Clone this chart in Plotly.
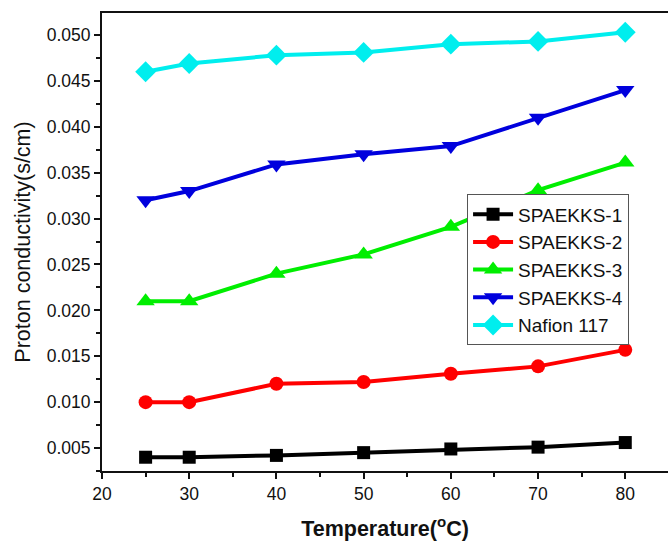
import plotly.graph_objects as go

temps = [25, 30, 40, 50, 60, 70, 80]
names = ["SPAEKKS-1", "SPAEKKS-2", "SPAEKKS-3", "SPAEKKS-4", "Nafion 117"]
s1 = [0.0040, 0.0040, 0.0042, 0.0045, 0.0049, 0.0051, 0.0056]
s2 = [0.0100, 0.0100, 0.0120, 0.0122, 0.0131, 0.0139, 0.0157]
s3 = [0.0210, 0.0210, 0.0240, 0.0261, 0.0291, 0.0331, 0.0361]
s4 = [0.0320, 0.0330, 0.0359, 0.0370, 0.0379, 0.0410, 0.0440]
naf = [0.0460, 0.0469, 0.0478, 0.0481, 0.0490, 0.0493, 0.0503]
series = [s1, s2, s3, s4, naf]
colors = ["#000000", "#ff0000", "#00ee00", "#0000dd", "#00eeee"]
symbols = ["square", "circle", "triangle-up", "triangle-down", "diamond"]
sizes = [13, 14, 16, 16, 16]

fig = go.Figure()
for n, ys, c, sym, sz in zip(names, series, colors, symbols, sizes):
    fig.add_trace(go.Scatter(x=temps, y=ys, name=n, mode="lines+markers",
                             line=dict(color=c, width=4),
                             marker=dict(symbol=sym, size=sz, color=c)))

axis_font = dict(family="Liberation Sans, Arial", size=17.5, color="#111")
fig.update_layout(
    width=668, height=542,
    margin=dict(l=102, r=0, t=13, b=71),
    paper_bgcolor="white", plot_bgcolor="white",
    font=dict(family="Liberation Sans, Arial", color="#111"),
    showlegend=True,
    legend=dict(x=0.645, y=0.604, xanchor="left", yanchor="top",
                bgcolor="white", bordercolor="#555", borderwidth=1,
                font=dict(family="Liberation Sans, Arial", size=19, color="#111"),
                tracegroupgap=0, itemwidth=40),
    xaxis=dict(range=[20, 84.9], tickvals=[20, 30, 40, 50, 60, 70, 80],
               ticks="outside", ticklen=6, tickwidth=2, tickcolor="#111",
               showline=True, linewidth=2, linecolor="#111", mirror=True,
               showgrid=False, zeroline=False, tickfont=axis_font,
               minor=dict(tickvals=[25, 35, 45, 55, 65, 75], ticks="outside",
                          ticklen=4, tickwidth=2, tickcolor="#111"),
               title=dict(text="<b>Temperature(<sup>o</sup>C)</b>",
                          font=dict(family="Liberation Sans, Arial", size=21.5, color="#111"),
                          standoff=18)),
    yaxis=dict(range=[0.0025, 0.0524],
               tickvals=[0.005, 0.010, 0.015, 0.020, 0.025, 0.030, 0.035, 0.040, 0.045, 0.050],
               tickformat=".3f",
               ticks="outside", ticklen=6, tickwidth=2, tickcolor="#111",
               showline=True, linewidth=2, linecolor="#111",
               showgrid=False, zeroline=False, tickfont=axis_font,
               minor=dict(tickvals=[0.0025, 0.0075, 0.0125, 0.0175, 0.0225, 0.0275,
                                    0.0325, 0.0375, 0.0425, 0.0475],
                          ticks="outside", ticklen=4, tickwidth=2, tickcolor="#111"),
               title=dict(text="Proton conductivity(s/cm)",
                          font=dict(family="Liberation Sans, Arial", size=21.5, color="#111"),
                          standoff=10)),
)

fig.write_html("out.html")
